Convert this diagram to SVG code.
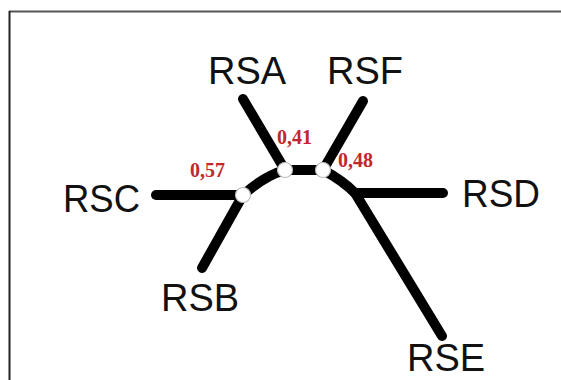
<svg xmlns="http://www.w3.org/2000/svg" width="561" height="380" viewBox="0 0 561 380">
<style>
.edge{fill:none;stroke:#000;stroke-width:10;stroke-linecap:round;stroke-linejoin:round}
.lbl{font-family:"Liberation Sans",Arial,sans-serif;font-size:38px;fill:#111}
.w{font-family:"Liberation Serif","Times New Roman",serif;font-size:20px;font-weight:bold;fill:#c0282c}
.jn{fill:#fff;stroke:#bbb;stroke-width:1.2}
</style>
<rect width="561" height="380" fill="#fff"/>
<line x1="9" y1="11.5" x2="561" y2="11.5" stroke="#555" stroke-width="2"/>
<line x1="9.5" y1="11" x2="9.5" y2="380" stroke="#222" stroke-width="2"/>
<g id="connectors">
<path class="edge" d="M156,195 H243"/>
<path class="edge" d="M243,195 L202,268"/>
<path class="edge" d="M243,195 Q264,176 285,170"/>
<path class="edge" d="M285,170 H323"/>
<path class="edge" d="M285,170 L243,99"/>
<path class="edge" d="M323,170 L363,101"/>
<path class="edge" d="M323,170 Q342,180 355,193 H443"/>
<path class="edge" d="M355,193 L442,336"/>
</g>
<g id="RSA"><text class="lbl" x="208" y="84">RSA</text></g>
<g id="RSF"><text class="lbl" x="327" y="84">RSF</text></g>
<g id="RSC"><text class="lbl" x="63" y="212" textLength="77" lengthAdjust="spacingAndGlyphs">RSC</text></g>
<g id="RSD"><text class="lbl" x="462" y="207" textLength="78" lengthAdjust="spacingAndGlyphs">RSD</text></g>
<g id="RSB"><text class="lbl" x="161" y="311">RSB</text></g>
<g id="RSE"><text class="lbl" x="407" y="371">RSE</text></g>
<g id="n1"><circle class="jn" cx="243" cy="195" r="7.5"/></g>
<g id="n2"><circle class="jn" cx="285" cy="170" r="7.5"/></g>
<g id="n3"><circle class="jn" cx="323" cy="170" r="7.5"/></g>
<g id="weights">
<text class="w" x="190" y="177">0,57</text>
<text class="w" x="277" y="144">0,41</text>
<text class="w" x="338" y="167">0,48</text>
</g>
</svg>
